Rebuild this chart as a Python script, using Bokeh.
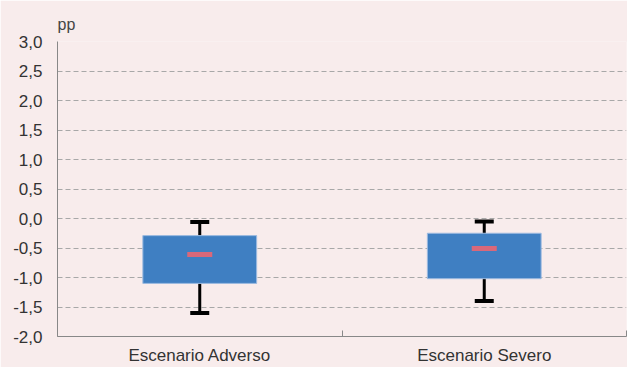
from bokeh.plotting import figure
from bokeh.models import FixedTicker, Range1d, ColumnDataSource
from bokeh.embed import file_html
from bokeh.resources import INLINE

# ---- data ----
categories = ["Escenario Adverso", "Escenario Severo"]
box_low = [-1.10, -1.02]
box_high = [-0.29, -0.25]
medians = [-0.61, -0.51]
whisker_low = [-1.60, -1.40]
whisker_high = [-0.06, -0.05]
y_ticks = [-2.0, -1.5, -1.0, -0.5, 0.0, 0.5, 1.0, 1.5, 2.0, 2.5, 3.0]
y_tick_labels = ["-2,0", "-1,5", "-1,0", "-0,5", "0,0", "0,5", "1,0", "1,5", "2,0", "2,5", "3,0"]
unit_label = "pp"

BG = "#f8ecec"
FONT = "Liberation Sans"
TXT = "#333333"

xpos = [i + 0.5 for i in range(len(categories))]
src = ColumnDataSource(dict(x=xpos, lo=box_low, hi=box_high, med=medians,
                            wlo=whisker_low, whi=whisker_high))

p = figure(width=627, height=363, output_backend="svg", toolbar_location=None,
           x_range=Range1d(0, len(categories)), y_range=Range1d(y_ticks[0], y_ticks[-1]),
           title=unit_label)
p.frame_width = 569
p.frame_height = 295
p.min_border_left = 57
p.min_border_right = 1
p.min_border_top = 41
p.min_border_bottom = 27
p.background_fill_color = BG
p.border_fill_color = BG
p.outline_line_color = None

p.title.text_font = FONT
p.title.text_font_size = "16px"
p.title.text_font_style = "normal"
p.title.text_color = "#444444"
p.title.align = "left"
p.title.standoff = 18

# grid
p.xgrid.grid_line_color = None
p.ygrid.ticker = FixedTicker(ticks=y_ticks)
p.ygrid.grid_line_color = "#a8a8a8"
p.ygrid.grid_line_dash = "5 3"
p.ygrid.grid_line_width = 1

# y axis
p.yaxis.ticker = FixedTicker(ticks=y_ticks)
p.yaxis.major_label_overrides = {t: l for t, l in zip(y_ticks, y_tick_labels)}
p.yaxis.major_tick_in = 0
p.yaxis.major_tick_out = 0
p.yaxis.minor_tick_in = 0
p.yaxis.minor_tick_out = 0
p.yaxis.axis_line_color = "#888888"
p.yaxis.major_label_text_font = FONT
p.yaxis.major_label_text_font_size = "17px"
p.yaxis.major_label_text_color = TXT
p.yaxis.major_label_standoff = 15

# x axis
p.xaxis.ticker = FixedTicker(ticks=xpos, minor_ticks=list(range(len(categories) + 1)))
p.xaxis.major_label_overrides = {x: c for x, c in zip(xpos, categories)}
p.xaxis.major_tick_in = 0
p.xaxis.major_tick_out = 0
p.xaxis.minor_tick_in = 6
p.xaxis.minor_tick_out = 0
p.xaxis.minor_tick_line_color = "#888888"
p.xaxis.axis_line_color = "#888888"
p.xaxis.major_label_text_font = FONT
p.xaxis.major_label_text_font_size = "17px"
p.xaxis.major_label_text_color = TXT
p.xaxis.major_label_standoff = 9

# whiskers
p.segment(x0="x", y0="wlo", x1="x", y1="whi", source=src, line_color="black", line_width=3)
p.dash(x="x", y="wlo", source=src, size=19, line_color="black", line_width=4)
p.dash(x="x", y="whi", source=src, size=19, line_color="black", line_width=4)
# boxes
p.vbar(x="x", width=0.4, bottom="lo", top="hi", source=src,
       fill_color="#3f7fc2", line_color="#9dbbe0", line_width=1)
# medians
p.dash(x="x", y="med", source=src, size=25, line_color="#d9687a", line_width=5)

open("out.html", "w").write(file_html(p, INLINE))
